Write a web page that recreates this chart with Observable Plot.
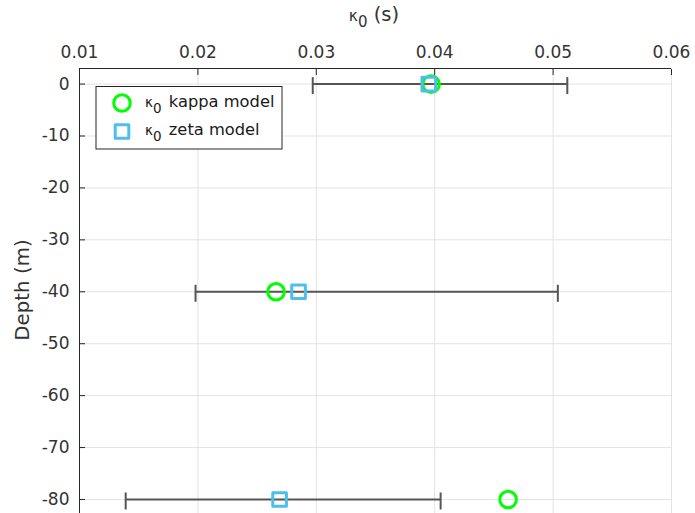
<!DOCTYPE html>
<html>
<head>
<meta charset="utf-8">
<script src="https://cdn.jsdelivr.net/npm/d3@7"></script>
<script src="https://cdn.jsdelivr.net/npm/@observablehq/plot@0.6"></script>
<style>
  html, body { margin: 0; padding: 0; background: #fff; overflow: hidden; }
  #chart { position: relative; width: 695px; height: 513px; }
  svg { font-family: "DejaVu Sans", sans-serif; }
</style>
</head>
<body>
<div id="chart"></div>
<script>
const depths = [0, -40, -80];
const kappaModel = [0.0397, 0.0266, 0.0462];
const zetaModel = [0.0395, 0.0285, 0.0269];
const errLow = [0.0297, 0.0198, 0.0139];
const errHigh = [0.0512, 0.0504, 0.0405];
const xTicks = [0.01, 0.02, 0.03, 0.04, 0.05, 0.06];
const yTicks = [0, -10, -20, -30, -40, -50, -60, -70, -80];
const xDomain = [0.01, 0.06];
const yDomain = [-82.7, 3];
const legendLabels = ["kappa model", "zeta model"];

const rows = depths.map((d, i) => ({depth: d, kappa: kappaModel[i], zeta: zetaModel[i], lo: errLow[i], hi: errHigh[i]}));

const axisColor = "#262626";
const textColor = "#333333";
const gridColor = "#e3e3e3";
const barColor = "#555555";
const green = "#00ff00";
const blue = "#4dbeee";

const plot = Plot.plot({
  width: 695,
  height: 513,
  marginLeft: 79,
  marginRight: 24,
  marginTop: 68,
  marginBottom: 0,
  style: {fontFamily: "DejaVu Sans, sans-serif", fontSize: "17px", color: textColor, background: "white"},
  x: {domain: xDomain, ticks: xTicks},
  y: {domain: yDomain, ticks: yTicks},
  marks: [
    Plot.gridX(xTicks, {stroke: gridColor, strokeOpacity: 1, strokeWidth: 1}),
    Plot.gridY(yTicks, {stroke: gridColor, strokeOpacity: 1, strokeWidth: 1}),
    Plot.ruleY([yDomain[1]], {stroke: axisColor, strokeWidth: 1}),
    Plot.ruleX([xDomain[0]], {stroke: axisColor, strokeWidth: 1}),
    Plot.axisX(xTicks, {anchor: "top", tickSize: -6, tickPadding: 17, tickFormat: d3.format(".2f"), label: null, stroke: axisColor, fill: textColor, fontSize: 17}),
    Plot.axisY(yTicks, {anchor: "left", tickSize: -6, tickPadding: 16, tickFormat: d => String(d).replace("\u2212", "-"), label: null, stroke: axisColor, fill: textColor, fontSize: 17}),
    Plot.ruleY(rows, {y: "depth", x1: "lo", x2: "hi", stroke: barColor, strokeWidth: 2}),
    Plot.ruleX(rows, {x: "lo", y1: "depth", y2: "depth", insetTop: -6.5, insetBottom: -10.5, stroke: barColor, strokeWidth: 2}),
    Plot.ruleX(rows, {x: "hi", y1: "depth", y2: "depth", insetTop: -6.5, insetBottom: -10.5, stroke: barColor, strokeWidth: 2}),
    Plot.dot(rows, {x: "kappa", y: "depth", symbol: "circle", r: 8.3, stroke: green, strokeWidth: 3, fill: "none"}),
    Plot.dot(rows, {x: "zeta", y: "depth", symbol: "square", r: 7.7, stroke: blue, strokeWidth: 3, fill: "none", strokeLinejoin: "round"})
  ]
});

document.getElementById("chart").appendChild(plot);
const svg = d3.select(plot);

// axis labels
const xl = svg.append("text").attr("x", 374).attr("y", 21).attr("text-anchor", "middle")
  .attr("fill", textColor).style("font-size", "19.5px");
xl.append("tspan").text("\u03ba").style("font-size", "15.5px");
xl.append("tspan").text("0").attr("dy", 6).style("font-size", "15px");
xl.append("tspan").text(" (s)").attr("dy", -6);

svg.append("text").attr("transform", "translate(29,290) rotate(-90)").attr("text-anchor", "middle")
  .attr("fill", textColor).style("font-size", "19.8px").text("Depth (m)");

// legend
const lg = svg.append("g").attr("text-anchor", "start");
lg.append("rect").attr("x", 96).attr("y", 86.5).attr("width", 186).attr("height", 62.5)
  .attr("fill", "white").attr("stroke", axisColor).attr("stroke-width", 1);
lg.append("circle").attr("cx", 122).attr("cy", 103).attr("r", 8.3)
  .attr("fill", "none").attr("stroke", green).attr("stroke-width", 3);
const sq = 13.6;
lg.append("rect").attr("x", 122 - sq / 2).attr("y", 131.5 - sq / 2).attr("width", sq).attr("height", sq)
  .attr("fill", "none").attr("stroke", blue).attr("stroke-width", 3).attr("stroke-linejoin", "round");
[[legendLabels[0], 106.5], [legendLabels[1], 135]].forEach(([lab, y]) => {
  const t = lg.append("text").attr("x", 145).attr("y", y).attr("text-anchor", "start").attr("fill", "#1a1a1a").style("font-size", "16.3px");
  t.append("tspan").text("\u03ba").style("font-size", "13.5px");
  t.append("tspan").text("0").attr("dy", 6).style("font-size", "13.5px");
  t.append("tspan").text("\u2009" + lab).attr("dy", -6).attr("dx", 4);
});
</script>
</body>
</html>
